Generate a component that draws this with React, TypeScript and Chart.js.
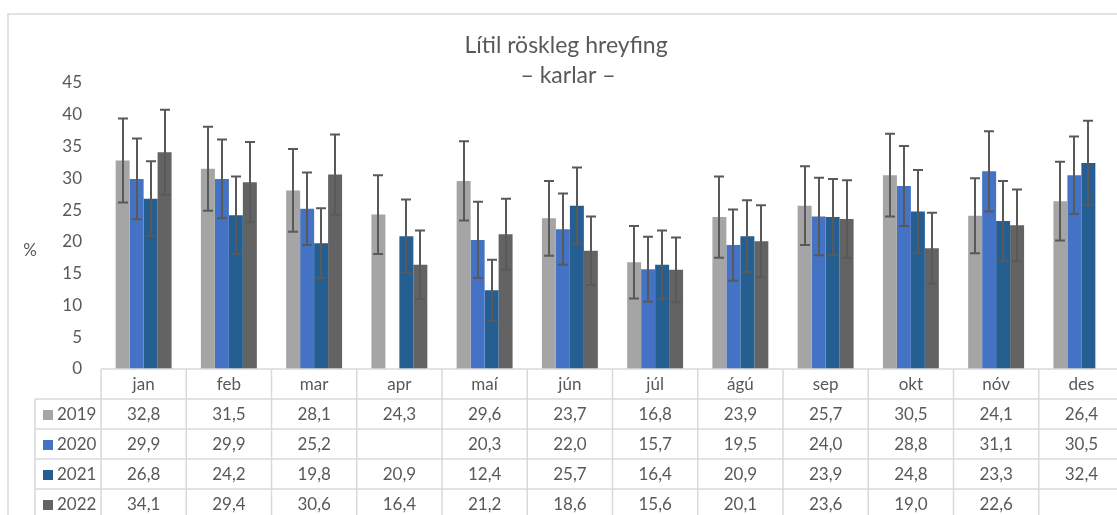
import React, { useEffect, useRef } from "react";
import { Chart, registerables } from "chart.js";

Chart.register(...registerables);

const titleLines = ["Lítil röskleg hreyfing", "– karlar –"];
const yUnit = "%";
const months = ["jan", "feb", "mar", "apr", "maí", "jún", "júl", "ágú", "sep", "okt", "nóv", "des"];
const seriesNames = ["2019", "2020", "2021", "2022"];
const v2019 = [32.8, 31.5, 28.1, 24.3, 29.6, 23.7, 16.8, 23.9, 25.7, 30.5, 24.1, 26.4];
const v2020 = [29.9, 29.9, 25.2, null, 20.3, 22.0, 15.7, 19.5, 24.0, 28.8, 31.1, 30.5];
const v2021 = [26.8, 24.2, 19.8, 20.9, 12.4, 25.7, 16.4, 20.9, 23.9, 24.8, 23.3, 32.4];
const v2022 = [34.1, 29.4, 30.6, 16.4, 21.2, 18.6, 15.6, 20.1, 23.6, 19.0, 22.6, null];
const e2019 = [6.6, 6.6, 6.5, 6.2, 6.25, 5.9, 5.7, 6.4, 6.2, 6.5, 5.9, 6.2];
const e2020 = [6.35, 6.2, 5.7, null, 6.0, 5.6, 5.1, 5.6, 6.1, 6.3, 6.3, 6.1];
const e2021 = [5.9, 6.1, 5.5, 5.75, 4.8, 6.0, 5.4, 5.65, 6.0, 6.5, 6.3, 6.65];
const e2022 = [6.7, 6.3, 6.3, 5.4, 5.6, 5.4, 5.1, 5.65, 6.1, 5.6, 5.65, null];
const colors = ["#a5a5a5", "#4472c4", "#255e91", "#636363"];

const values = [v2019, v2020, v2021, v2022];
const errors = [e2019, e2020, e2021, e2022];

const TEXT = "#595959";
const LINE = "#d9d9d9";
const FONT = "Lato";

const fmt = (v: number | null) => (v == null ? "" : v.toFixed(1).replace(".", ","));

const decorPlugin = {
  id: "decor",
  beforeDraw(chart: any) {
    const ctx = chart.ctx;
    ctx.save();
    ctx.fillStyle = "#ffffff";
    ctx.fillRect(0, 0, chart.width, chart.height);
    ctx.strokeStyle = LINE;
    ctx.lineWidth = 1.5;
    ctx.strokeRect(8, 14, 1300, 700);
    ctx.restore();
  },
  afterDatasetsDraw(chart: any) {
    const ctx = chart.ctx;
    const y = chart.scales.y;
    ctx.save();
    ctx.strokeStyle = "#595959";
    ctx.lineWidth = 2;
    values.forEach((vals, i) => {
      const meta = chart.getDatasetMeta(i);
      vals.forEach((v, j) => {
        const e = errors[i][j];
        if (v == null || e == null) return;
        const bar = meta.data[j];
        if (!bar) return;
        const x = Math.round(bar.x);
        const yt = y.getPixelForValue(v + e);
        const yb = y.getPixelForValue(v - e);
        ctx.beginPath();
        ctx.moveTo(x, yt);
        ctx.lineTo(x, yb);
        ctx.moveTo(x - 5, yt);
        ctx.lineTo(x + 5, yt);
        ctx.moveTo(x - 5, yb);
        ctx.lineTo(x + 5, yb);
        ctx.stroke();
      });
    });
    ctx.restore();
  },
  afterDraw(chart: any) {
    const ctx = chart.ctx;
    const xs = chart.scales.x;
    const area = chart.chartArea;
    const n = months.length;
    const cw = (area.right - area.left) / n;
    const rowH = 30;
    const top = area.bottom;
    const legendLeft = 35;
    ctx.save();

    // title
    ctx.fillStyle = TEXT;
    ctx.textAlign = "center";
    ctx.textBaseline = "middle";
    ctx.font = `23px ${FONT}`;
    ctx.fillText(titleLines[0], 566, 46);
    ctx.fillText(titleLines[1], 568, 76);

    // unit
    ctx.font = `17px ${FONT}`;
    ctx.fillText(yUnit, 30, 251);

    // table lines
    ctx.strokeStyle = LINE;
    ctx.lineWidth = 1.5;
    ctx.beginPath();
    ctx.moveTo(area.left, top);
    ctx.lineTo(chart.width, top);
    for (let r = 1; r <= 5; r++) {
      const yy = top + r * rowH;
      ctx.moveTo(legendLeft, yy);
      ctx.lineTo(chart.width, yy);
    }
    ctx.moveTo(legendLeft, top + rowH);
    ctx.lineTo(legendLeft, chart.height);
    for (let j = 0; j <= n; j++) {
      const xx = area.left + j * cw;
      ctx.moveTo(xx, top);
      ctx.lineTo(xx, chart.height);
    }
    ctx.stroke();

    // header
    ctx.fillStyle = TEXT;
    ctx.font = `17px ${FONT}`;
    ctx.textAlign = "center";
    months.forEach((m, j) => {
      ctx.fillText(m, xs.getPixelForValue(j), top + rowH / 2 + 1);
    });

    // rows
    values.forEach((vals, i) => {
      const cy = top + rowH * (i + 1) + rowH / 2 + 1;
      ctx.fillStyle = colors[i];
      ctx.fillRect(43, Math.round(cy - 5), 10, 10);
      ctx.fillStyle = TEXT;
      ctx.textAlign = "left";
      ctx.fillText(seriesNames[i], 57, cy);
      ctx.textAlign = "center";
      vals.forEach((v, j) => {
        ctx.fillText(fmt(v), xs.getPixelForValue(j), cy);
      });
    });
    ctx.restore();
  },
};

export default function App() {
  const ref = useRef<HTMLCanvasElement | null>(null);
  useEffect(() => {
    if (!ref.current) return;
    Chart.defaults.font.family = FONT;
    const chart = new Chart(ref.current, {
      type: "bar",
      data: {
        labels: months,
        datasets: values.map((vals, i) => ({
          label: seriesNames[i],
          data: vals,
          backgroundColor: colors[i],
          borderWidth: 0,
          barPercentage: 1,
          categoryPercentage: 0.656,
        })),
      },
      options: {
        responsive: false,
        animation: false,
        layout: { padding: { top: 83, left: 0, right: 11, bottom: 161 } },
        plugins: {
          legend: { display: false },
          title: { display: false },
          tooltip: { enabled: false },
        },
        scales: {
          x: { display: false },
          y: {
            min: 0,
            max: 45,
            ticks: { stepSize: 5, color: TEXT, font: { size: 17, family: FONT }, padding: 19 },
            grid: { display: false, drawTicks: false },
            border: { display: false },
            afterFit: (scale: any) => {
              scale.width = 101;
            },
          },
        },
      },
      plugins: [decorPlugin],
    });
    return () => chart.destroy();
  }, []);
  return (
    <div
      style={{
        position: "fixed",
        left: 0,
        top: 0,
        width: 1117,
        height: 515,
        overflow: "hidden",
        background: "#fff",
      }}
    >
      <canvas ref={ref} width={1135} height={530} style={{ display: "block" }} />
    </div>
  );
}
